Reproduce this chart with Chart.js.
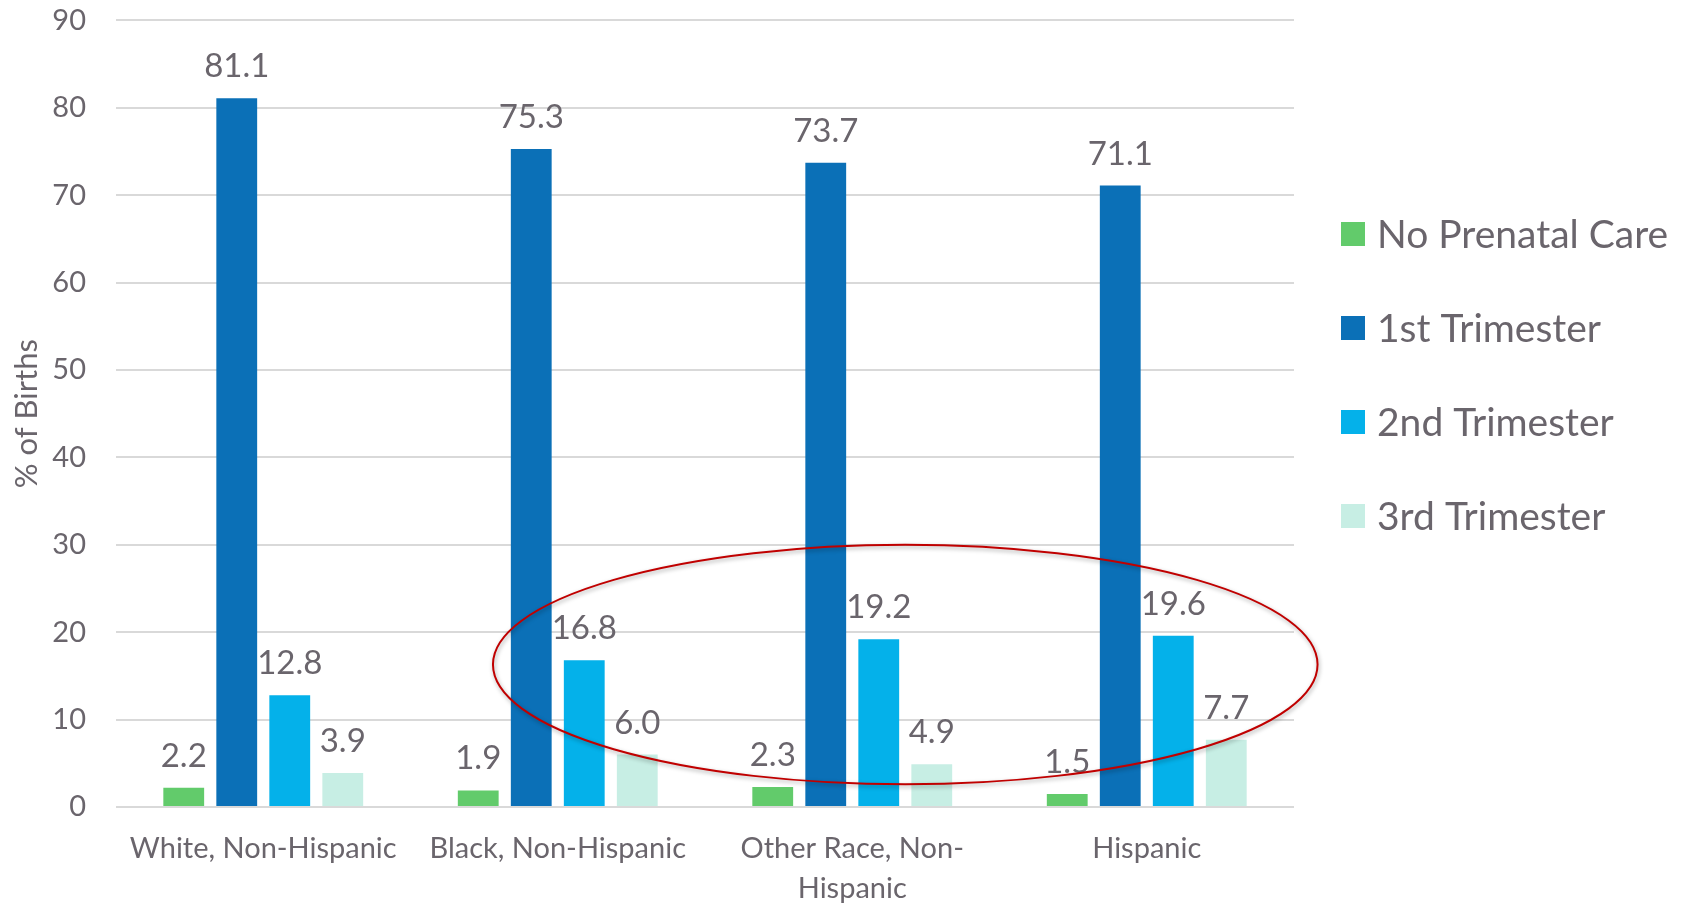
<!DOCTYPE html>
<html>
<head>
<meta charset="utf-8">
<script src="https://cdn.jsdelivr.net/npm/chart.js@4.4.1/dist/chart.umd.min.js"></script>
<style>
  html, body { margin: 0; padding: 0; background: #fff; }
</style>
</head>
<body>
<canvas id="chart" width="1684" height="903"></canvas>
<script>
const categories = ['White, Non-Hispanic', 'Black, Non-Hispanic', ['Other Race, Non-', 'Hispanic'], 'Hispanic'];
const seriesNames = ['No Prenatal Care', '1st Trimester', '2nd Trimester', '3rd Trimester'];
const noPrenatalCare = [2.2, 1.9, 2.3, 1.5];
const firstTrimester = [81.1, 75.3, 73.7, 71.1];
const secondTrimester = [12.8, 16.8, 19.2, 19.6];
const thirdTrimester = [3.9, 6.0, 4.9, 7.7];
const yMin = 0, yMax = 90, yStep = 10;

const seriesColors = ['#62cb6b', '#0b70b7', '#04b1ea', '#c7eee4'];
const textColor = '#6a656c';
const fontFamily = 'Lato, "Open Sans", sans-serif';

// value labels on top of every bar
const barLabels = {
  id: 'barLabels',
  afterDatasetsDraw(chart) {
    const ctx = chart.ctx;
    ctx.save();
    ctx.font = `33px ${fontFamily}`;
    ctx.fillStyle = textColor;
    ctx.textAlign = 'center';
    ctx.textBaseline = 'alphabetic';
    chart.data.datasets.forEach((ds, i) => {
      chart.getDatasetMeta(i).data.forEach((bar, j) => {
        ctx.fillText(ds.data[j].toFixed(1), bar.x, bar.y - 21);
      });
    });
    ctx.restore();
  }
};

// red highlight ring, placed in data units
const highlight = {
  id: 'highlight',
  afterDatasetsDraw(chart) {
    const { ctx, scales: { x, y } } = chart;
    const cx = x.getPixelForValue(2.18);
    const cy = y.getPixelForValue(16.3);
    const rx = x.getPixelForValue(2.18 + 1.4) - cx;
    const ry = cy - y.getPixelForValue(16.3 + 13.7);
    ctx.save();
    ctx.shadowColor = 'rgba(0,0,0,0.35)';
    ctx.shadowBlur = 4;
    ctx.shadowOffsetX = 1;
    ctx.shadowOffsetY = 2;
    ctx.strokeStyle = '#c00000';
    ctx.lineWidth = 2;
    ctx.beginPath();
    ctx.ellipse(cx, cy, rx, ry, 0, 0, Math.PI * 2);
    ctx.stroke();
    ctx.restore();
  }
};

// legend on the right
const sideLegend = {
  id: 'sideLegend',
  afterDraw(chart) {
    const ctx = chart.ctx;
    ctx.save();
    ctx.font = `39px ${fontFamily}`;
    ctx.textBaseline = 'middle';
    ctx.textAlign = 'left';
    chart.data.datasets.forEach((ds, i) => {
      const rowY = 234 + i * 94;
      ctx.fillStyle = ds.backgroundColor;
      ctx.fillRect(1341, rowY - 12, 24, 24);
      ctx.fillStyle = textColor;
      ctx.fillText(ds.label, 1377, rowY + 1);
    });
    ctx.restore();
  }
};

const seriesData = [noPrenatalCare, firstTrimester, secondTrimester, thirdTrimester];

new Chart(document.getElementById('chart'), {
  type: 'bar',
  data: {
    labels: categories,
    datasets: seriesNames.map((name, i) => ({
      label: name,
      data: seriesData[i],
      backgroundColor: seriesColors[i],
      borderWidth: 0,
      categoryPercentage: 0.72,
      barPercentage: 0.77
    }))
  },
  options: {
    responsive: false,
    animation: false,
    layout: { padding: { top: 0, right: 390, left: 0, bottom: 0 } },
    plugins: {
      legend: { display: false },
      tooltip: { enabled: false }
    },
    scales: {
      y: {
        min: yMin,
        max: yMax,
        ticks: {
          stepSize: yStep,
          color: textColor,
          padding: 3,
          font: { family: fontFamily, size: 29 }
        },
        grid: { color: '#d9d9d9', lineWidth: 2, drawTicks: true, tickLength: 27, tickColor: 'rgba(0,0,0,0)' },
        border: { display: false },
        title: {
          display: true,
          text: '% of Births',
          color: textColor,
          font: { family: fontFamily, size: 31 },
          padding: { top: 8, bottom: 0 }
        },
        afterFit(scale) { scale.width = 116; }
      },
      x: {
        ticks: {
          color: textColor,
          padding: 14,
          maxRotation: 0,
          autoSkip: false,
          font: { family: fontFamily, size: 29, lineHeight: 1.36 }
        },
        grid: { display: false },
        border: { display: false },
        afterFit(scale) { scale.height = 96; }
      }
    }
  },
  plugins: [barLabels, highlight, sideLegend]
});
</script>
</body>
</html>
